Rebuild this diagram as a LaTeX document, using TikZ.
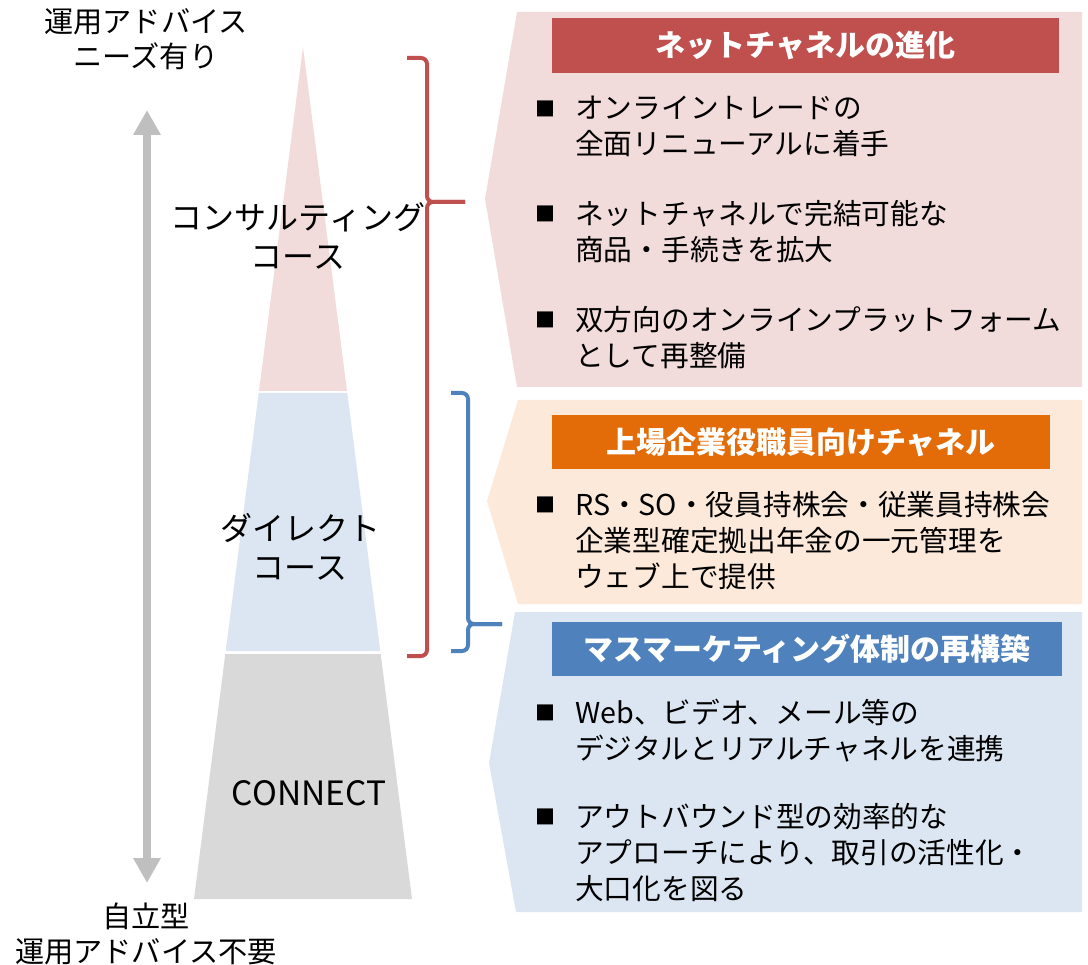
\documentclass[tikz,border=0pt]{standalone}
\usepackage{fontspec}
\setmainfont{Noto Sans CJK JP}
\usetikzlibrary{arrows.meta}
\definecolor{pinkbg}{HTML}{F2DCDB}
\definecolor{peachbg}{HTML}{FCE9DA}
\definecolor{bluebg}{HTML}{DCE6F2}
\definecolor{graybg}{HTML}{D9D9D9}
\definecolor{hred}{HTML}{C0504D}
\definecolor{horange}{HTML}{E36C09}
\definecolor{hblue}{HTML}{4F81BD}
\definecolor{arrowgray}{HTML}{BFBFBF}
\tikzset{
  body/.style={font=\fontsize{28.7}{36}\selectfont, align=left, anchor=west, inner sep=0pt},
  bul/.style={font=\fontsize{20}{20}\selectfont, inner sep=0pt},
  hdr/.style={font=\fontsize{30}{30}\selectfont\bfseries, text=white, inner sep=0pt},
  lbl/.style={font=\fontsize{29.2}{35}\selectfont, align=center, inner sep=0pt},
  plbl/.style={font=\fontsize{32}{39}\selectfont, align=center, inner sep=0pt},
  brace/.style={line width=4pt, rounded corners=6pt},
}
\begin{document}
\begin{tikzpicture}[x=1pt,y=-1pt]
\useasboundingbox (0,0) rectangle (1088,965);
% pyramid
\fill[pinkbg] (303,47) -- (347,391) -- (259,391) -- cycle;
\fill[bluebg] (258.7,393) -- (347.3,393) -- (380.3,651) -- (225.7,651) -- cycle;
\fill[graybg] (225.3,654) -- (380.7,654) -- (412,899) -- (194,899) -- cycle;
\node[plbl] (consult) at (298,236) {コンサルティング\\コース};
\node[plbl] (direct) at (300,547) {ダイレクト\\コース};
\node[plbl, font=\fontsize{33.5}{39}\selectfont] (connect) at (309,793) {CONNECT};
% left arrow and labels
\node[lbl] (need) at (146,39.5) {運用アドバイス\\ニーズ有り};
\node[lbl] (noneed) at (146,934) {自立型\\運用アドバイス不要};
\coordinate (atop) at (147,110);
\coordinate (abot) at (147,883);
\draw[line width=8pt, arrowgray, {Triangle[width=26pt,length=25pt]}-{Triangle[width=26pt,length=25pt]}] (atop) -- (abot);
% braces
\coordinate (rtip) at (465,202);
\coordinate (btip) at (502,624);
\draw[brace, hred] (407,58) -- (427,58) -- (427,202) -- (rtip);
\draw[brace, hred] (407,656) -- (427,656) -- (427,202) -- (rtip);
\draw[brace, hblue] (451,393) -- (468,393) -- (468,624) -- (btip);
\draw[brace, hblue] (451,651) -- (468,651) -- (468,624) -- (btip);
% panels
\fill[pinkbg] (517,12) -- (1082,12) -- (1082,387) -- (517,387) -- (485,199) -- cycle;
\fill[peachbg] (518,400) -- (1082,400) -- (1082,604) -- (518,604) -- (487,501) -- cycle;
\fill[bluebg] (515,612) -- (1082,612) -- (1082,912) -- (516,912) -- (489,763) -- cycle;
% headers
\node[hdr, fill=hred, minimum width=507pt, minimum height=55pt] (h1) at (805.5,45.5) {ネットチャネルの進化};
\node[hdr, fill=horange, minimum width=498pt, minimum height=54pt] (h2) at (801,442) {上場企業役職員向けチャネル};
\node[hdr, fill=hblue, minimum width=510pt, minimum height=54pt] (h3) at (807,649) {マスマーケティング体制の再構築};
% panel 1 bullets
\node[bul] (s1) at (545,109) {■};
\node[body] (t1) at (575,126.5) {オンライントレードの\\全面リニューアルに着手};
\node[bul] (s2) at (545,214) {■};
\node[body] (t2) at (575,232) {ネットチャネルで完結可能な\\商品・手続きを拡大};
\node[bul] (s3) at (545,320) {■};
\node[body] (t3) at (575,337.5) {双方向のオンラインプラットフォーム\\として再整備};
% panel 2
\node[bul] (s4) at (545,505) {■};
\node[body] (t4) at (575,540.5) {RS・SO・役員持株会・従業員持株会\\企業型確定拠出年金の一元管理を\\ウェブ上で提供};
% panel 3
\node[bul] (s5) at (545,713) {■};
\node[body] (t5) at (575,730.5) {Web、ビデオ、メール等の\\デジタルとリアルチャネルを連携};
\node[bul] (s6) at (545,817) {■};
\node[body] (t6) at (575,852.5) {アウトバウンド型の効率的な\\アプローチにより、取引の活性化・\\大口化を図る};
\end{tikzpicture}
\end{document}
